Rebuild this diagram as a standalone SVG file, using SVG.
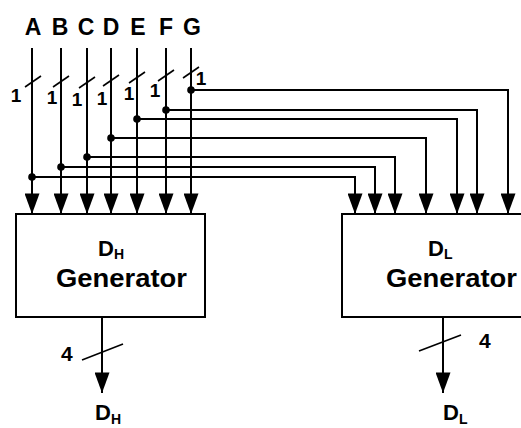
<svg xmlns="http://www.w3.org/2000/svg" width="521" height="428" viewBox="0 0 521 428">
<style>
.ln{stroke:#000;stroke-width:2;fill:none}
.sl{stroke:#000;stroke-width:1.6;fill:none}
.box{stroke:#000;stroke-width:2;fill:#fff}
.dot{fill:#000}
.t{font-family:"Liberation Sans",Arial,sans-serif;font-weight:bold;fill:#000}
.lbl{font-size:23px;text-anchor:middle}
.one{font-size:19px;text-anchor:middle}
.big{font-size:22px}
.sub{font-size:14px}
.gen{font-size:26px}
</style>
<defs>
<marker id="arr" viewBox="0 0 22 16" refX="22" refY="8" markerWidth="22" markerHeight="15" markerUnits="userSpaceOnUse" orient="auto">
<path d="M0,0 L22,8 L0,16 Z" fill="#000"/>
</marker>
</defs>
<rect width="521" height="428" fill="#fff"/>
<g id="connectors">
<path class="ln" d="M32,48 V214" marker-end="url(#arr)"/>
<path class="ln" d="M61,48 V214" marker-end="url(#arr)"/>
<path class="ln" d="M87,48 V214" marker-end="url(#arr)"/>
<path class="ln" d="M111,48 V214" marker-end="url(#arr)"/>
<path class="ln" d="M137,48 V214" marker-end="url(#arr)"/>
<path class="ln" d="M166,48 V214" marker-end="url(#arr)"/>
<path class="ln" d="M191,48 V214" marker-end="url(#arr)"/>
<path class="ln" d="M32,177 H355 V214" marker-end="url(#arr)"/>
<path class="ln" d="M61,167 H375 V214" marker-end="url(#arr)"/>
<path class="ln" d="M87,157 H395 V214" marker-end="url(#arr)"/>
<path class="ln" d="M111,138 H426 V214" marker-end="url(#arr)"/>
<path class="ln" d="M137,119 H457 V214" marker-end="url(#arr)"/>
<path class="ln" d="M166,110 H477 V214" marker-end="url(#arr)"/>
<path class="ln" d="M191,90 H508 V214" marker-end="url(#arr)"/>
<circle class="dot" cx="32" cy="177" r="3.8"/>
<circle class="dot" cx="61" cy="167" r="3.8"/>
<circle class="dot" cx="87" cy="157" r="3.8"/>
<circle class="dot" cx="111" cy="138" r="3.8"/>
<circle class="dot" cx="137" cy="119" r="3.8"/>
<circle class="dot" cx="166" cy="110" r="3.8"/>
<circle class="dot" cx="191" cy="90" r="3.8"/>
<line class="sl" x1="25" y1="87" x2="41" y2="76"/>
<line class="sl" x1="53" y1="87" x2="69" y2="76"/>
<line class="sl" x1="79" y1="88" x2="95" y2="77"/>
<line class="sl" x1="103" y1="86" x2="119" y2="75"/>
<line class="sl" x1="129" y1="83" x2="145" y2="72"/>
<line class="sl" x1="158" y1="81" x2="174" y2="70"/>
<line class="sl" x1="183" y1="78" x2="199" y2="67"/>
<text class="t one" x="16" y="102">1</text>
<text class="t one" x="52" y="104">1</text>
<text class="t one" x="77" y="106">1</text>
<text class="t one" x="102" y="105">1</text>
<text class="t one" x="129" y="100">1</text>
<text class="t one" x="155" y="97">1</text>
<text class="t one" x="201" y="85">1</text>
<path class="ln" d="M102,317 V393" marker-end="url(#arr)"/>
<path class="ln" d="M443,317 V393" marker-end="url(#arr)"/>
<line class="sl" x1="82" y1="360" x2="123" y2="344"/>
<line class="sl" x1="419" y1="351" x2="461" y2="335"/>
<text class="t" x="61" y="361" font-size="21">4</text>
<text class="t" x="479" y="348" font-size="21">4</text>
</g>
<g id="inputs">
<g id="in-A"><text class="t lbl" x="33" y="35">A</text></g>
<g id="in-B"><text class="t lbl" x="60" y="35">B</text></g>
<g id="in-C"><text class="t lbl" x="86" y="35">C</text></g>
<g id="in-D"><text class="t lbl" x="111" y="35">D</text></g>
<g id="in-E"><text class="t lbl" x="138" y="35">E</text></g>
<g id="in-F"><text class="t lbl" x="166" y="35">F</text></g>
<g id="in-G"><text class="t lbl" x="192" y="35">G</text></g>
</g>
<g id="dh-generator">
<rect class="box" x="16" y="214" width="189" height="103"/>
<text class="t" x="98" y="256"><tspan class="big">D</tspan><tspan class="sub" dy="3">H</tspan></text>
<text class="t gen" x="56" y="287" textLength="131" lengthAdjust="spacingAndGlyphs">Generator</text>
</g>
<g id="dl-generator">
<rect class="box" x="342" y="214" width="200" height="103"/>
<text class="t" x="428" y="256"><tspan class="big">D</tspan><tspan class="sub" dy="3">L</tspan></text>
<text class="t gen" x="386" y="287" textLength="131" lengthAdjust="spacingAndGlyphs">Generator</text>
</g>
<g id="out-DH">
<text class="t" x="95" y="420"><tspan class="big">D</tspan><tspan class="sub" dy="4">H</tspan></text>
</g>
<g id="out-DL">
<text class="t" x="443" y="420"><tspan class="big">D</tspan><tspan class="sub" dy="4">L</tspan></text>
</g>
</svg>
